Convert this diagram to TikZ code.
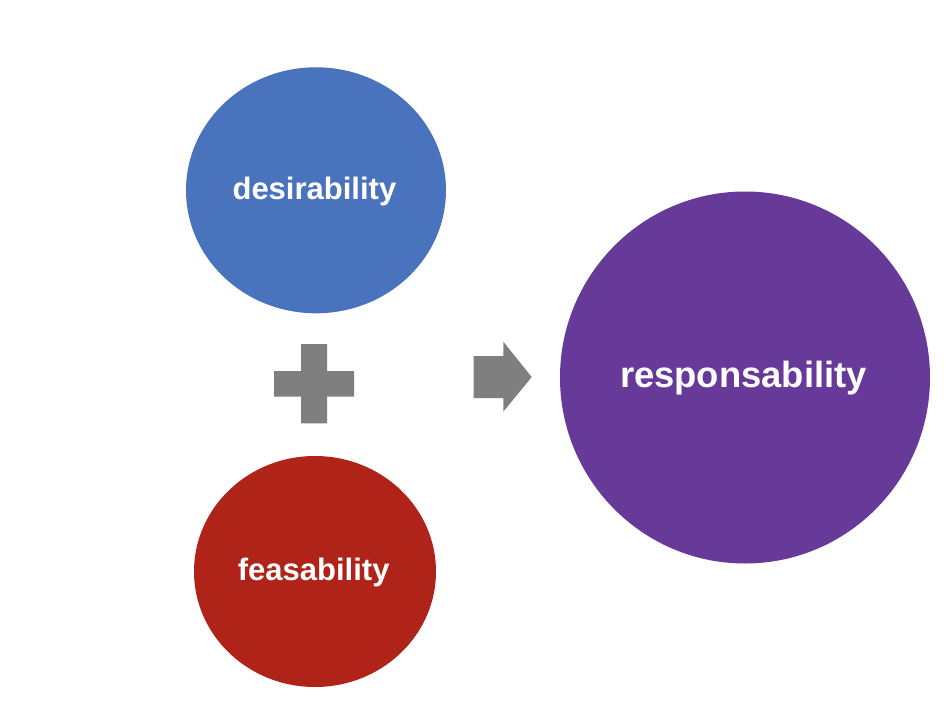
\documentclass[tikz,border=0pt]{standalone}
\usepackage{fontspec}
\setmainfont{Liberation Sans}
\usetikzlibrary{shapes.geometric}
\definecolor{cblue}{HTML}{4A73BE}
\definecolor{cred}{HTML}{AF2318}
\definecolor{cpurple}{HTML}{673A9A}
\definecolor{cgray}{HTML}{7F7F7F}
\tikzset{
  blob/.style={ellipse, inner sep=0pt, draw=none},
  lbl/.style={anchor=base, text=white, inner sep=0pt, font=\bfseries},
  sym/.style={fill=cgray, draw=none}
}
\begin{document}
\begin{tikzpicture}[x=1pt,y=-1pt]
\useasboundingbox (0,0) rectangle (950,706);
\fill[white] (0,0) rectangle (950,706);
\node[blob, fill=cblue, minimum width=260pt, minimum height=246pt] (des) at (316,190.3) {};
\node[blob, fill=cred, minimum width=242pt, minimum height=231pt] (fea) at (315,571.5) {};
\node[blob, fill=cpurple, minimum width=370pt, minimum height=372pt] (res) at (745,377.5) {};
\node[lbl, font=\bfseries\fontsize{31}{36}\selectfont] (tdes) at (314.4,199.3) {desirability};
\node[lbl, font=\bfseries\fontsize{31}{36}\selectfont] (tfea) at (313.7,580) {feasability};
\node[lbl, font=\bfseries\fontsize{36.4}{42}\selectfont] (tres) at (743.4,387.3) {responsability};
% plus sign
\fill[sym] (301,344) -- (327,344) -- (327,371) -- (354,371) -- (354,396.5) -- (327,396.5) -- (327,423.3) -- (301,423.3) -- (301,396.5) -- (274,396.5) -- (274,371) -- (301,371) -- cycle;
% arrow
\fill[sym] (473.5,356) -- (503.3,356) -- (503.3,341.7) -- (531.7,377) -- (503.3,411.7) -- (503.3,398) -- (473.5,398) -- cycle;
\end{tikzpicture}
\end{document}
